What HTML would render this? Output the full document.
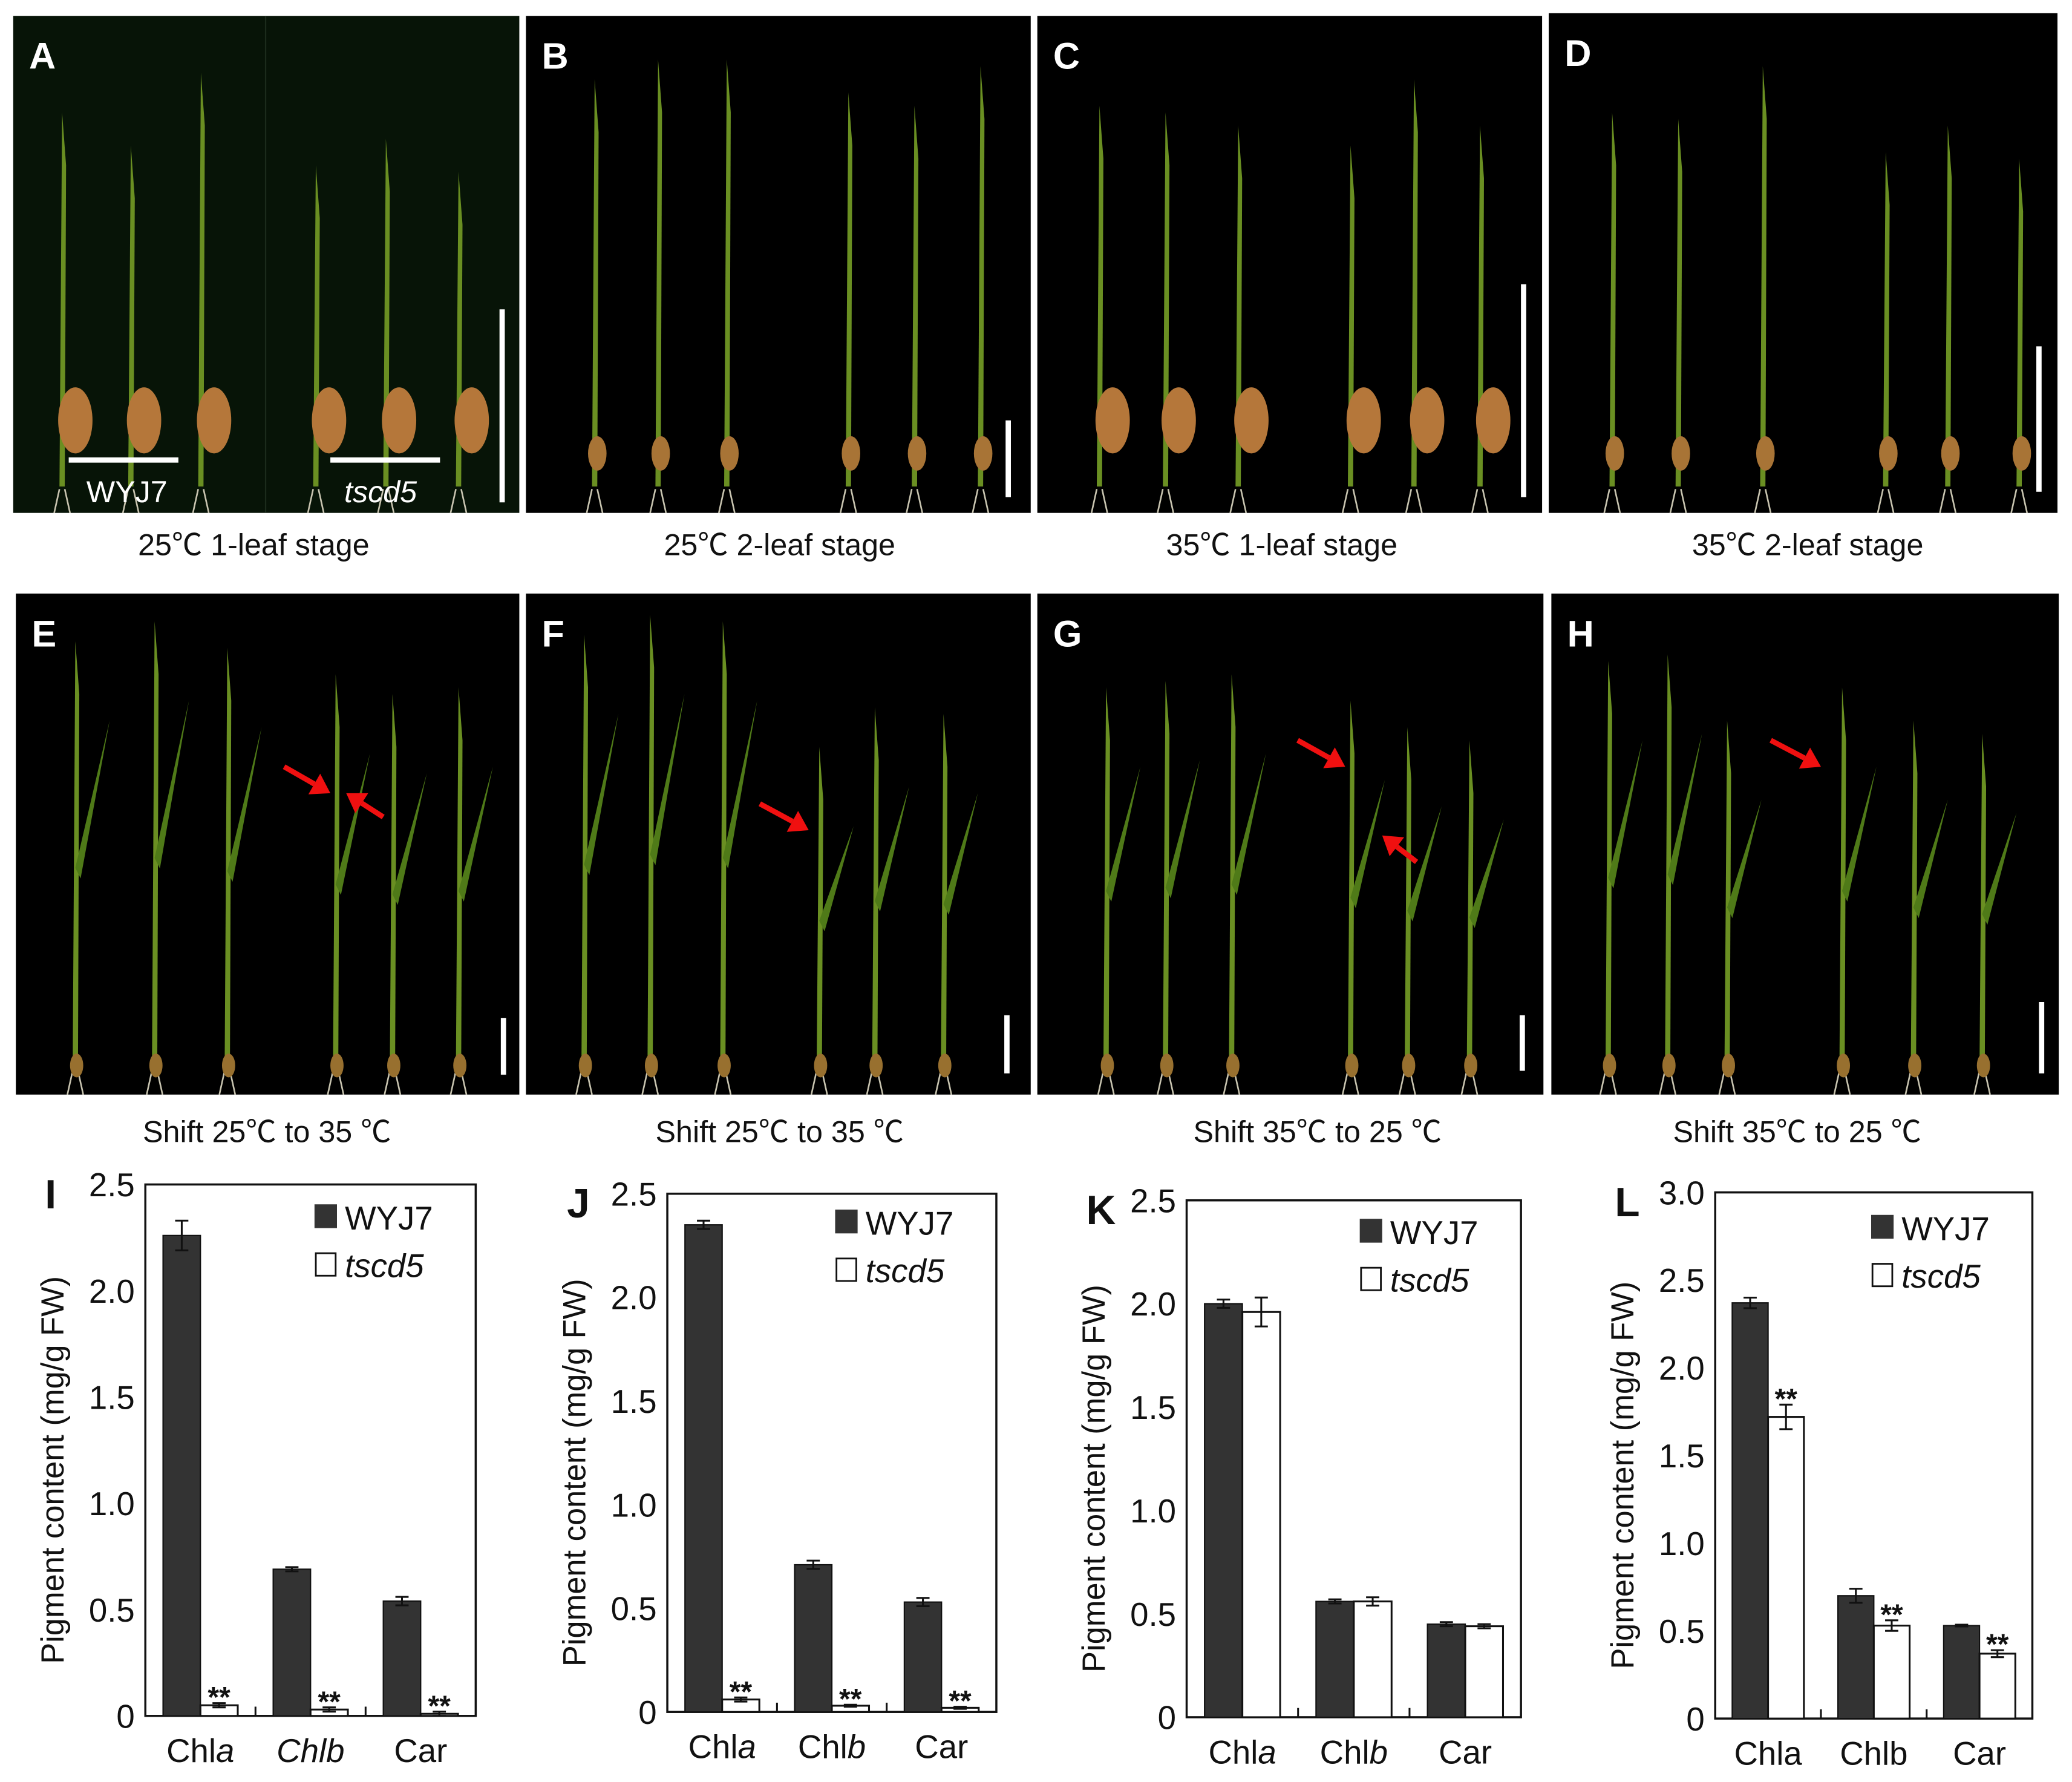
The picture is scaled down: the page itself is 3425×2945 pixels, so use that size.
<!DOCTYPE html>
<html><head><meta charset="utf-8">
<style>
html,body{margin:0;padding:0;background:#fff;}
svg{display:block;}
text{font-family:"Liberation Sans","Noto Sans CJK SC",sans-serif;}
</style></head>
<body>
<svg id="fig" width="3425" height="2945" viewBox="0 0 1568 1348" preserveAspectRatio="none" xmlns="http://www.w3.org/2000/svg">
<rect width="1568" height="1348" fill="#fff"/>
</svg>
<script>
const NS='http://www.w3.org/2000/svg';
const svg=document.getElementById('fig');
function mk(tag,attrs,parent,txt){const e=document.createElementNS(NS,tag);for(const k in attrs)e.setAttribute(k,attrs[k]);if(txt!==undefined)e.textContent=txt;(parent||svg).appendChild(e);return e;}

// ---------- photo panels (decorative) ----------
const photoPanels=[
 {id:'A',x:10,y:12,w:383,h:376,bg:'#071407',stems:[45,97,150,237,290,345],top:[85,110,55,125,105,130],seed:'big',bar:[380,234,380],cap:'25℃ 1-leaf stage',capX:192,capY:412},
 {id:'B',x:398,y:12,w:382,h:376,bg:'#000',stems:[448,496,548,640,690,740],top:[60,45,45,70,80,50],seed:'small',bar:[763,318,376],cap:'25℃ 2-leaf stage',capX:590,capY:412},
 {id:'C',x:785,y:12,w:382,h:376,bg:'#000',stems:[830,880,935,1020,1068,1118],top:[80,85,95,110,60,95],seed:'big',bar:[1153,215,376],cap:'35℃ 1-leaf stage',capX:970,capY:412},
 {id:'D',x:1172,y:10,w:385,h:378,bg:'#000',stems:[1218,1268,1332,1425,1472,1526],top:[85,90,50,115,95,120],seed:'small',bar:[1543,262,372],cap:'35℃ 2-leaf stage',capX:1368,capY:412},
 {id:'E',x:12,y:449,w:381,h:379,bg:'#000',stems:[55,115,170,252,295,345],top:[485,470,490,510,525,520],seed:'tiny',bar:[381,770,813],cap:'Shift 25℃ to 35 ℃',capX:202,capY:856},
 {id:'F',x:398,y:449,w:382,h:379,bg:'#000',stems:[440,490,545,618,660,712],top:[480,465,470,565,535,540],seed:'tiny',bar:[762,768,812],cap:'Shift 25℃ to 35 ℃',capX:590,capY:856},
 {id:'G',x:785,y:449,w:383,h:379,bg:'#000',stems:[835,880,930,1020,1063,1110],top:[520,515,510,530,550,560],seed:'tiny',bar:[1152,768,810],cap:'Shift 35℃ to 25 ℃',capX:997,capY:856},
 {id:'H',x:1174,y:449,w:384,h:379,bg:'#000',stems:[1215,1260,1305,1392,1446,1498],top:[500,495,545,520,545,555],seed:'tiny',bar:[1545,758,812],cap:'Shift 35℃ to 25 ℃',capX:1360,capY:856}
];
photoPanels.forEach(p=>{
 const g=mk('g',{});
 
 
 mk('rect',{x:p.x,y:p.y,width:p.w,height:p.h,fill:p.bg},g);
 const bot=p.y+p.h;
 p.stems.forEach((sx,i)=>{
  const t=p.top[i];
  mk('path',{d:`M${sx},${bot-20} L${sx+2},${t} L${sx+5},${t+40} L${sx+4},${bot-20}Z`,fill:'#6a8f22'},g);
  if(p.id>='E'){mk('path',{d:`M${sx+2},${(t+bot)/2} L${sx+28},${t+60} L${sx+6},${(t+bot)/2+8}Z`,fill:'#4f7a18'},g);}
  mk('line',{x1:sx,y1:bot-18,x2:sx-4,y2:bot,stroke:'#c8c4b0','stroke-width':1.2},g);
  mk('line',{x1:sx+4,y1:bot-18,x2:sx+8,y2:bot,stroke:'#c8c4b0','stroke-width':1.2},g);
  if(p.seed==='big')mk('ellipse',{cx:sx+12,cy:bot-70,rx:13,ry:25,fill:'#b5773a'},g);
  else if(p.seed==='small')mk('ellipse',{cx:sx+4,cy:bot-45,rx:7,ry:13,fill:'#a87436'},g);
  else mk('ellipse',{cx:sx+3,cy:bot-22,rx:5,ry:9,fill:'#98702f'},g);
 });
 const lab=mk('text',{x:p.x+12,y:p.y+40,fill:'#fff','font-size':28,'font-weight':'bold'},g,p.id);
 
 
 const sb=mk('line',{x1:p.bar[0],y1:p.bar[1],x2:p.bar[0],y2:p.bar[2],stroke:'#fff','stroke-width':4},g);
 
 
 const cap=mk('text',{x:p.capX,y:p.capY+8,'text-anchor':'middle','font-size':23,fill:'#111'},svg,p.cap);
 
 
});
// panel A extras
mk('line',{x1:201,y1:12,x2:201,y2:388,stroke:'#1b2b1b','stroke-width':1});
mk('line',{x1:52,y1:348,x2:135,y2:348,stroke:'#fff','stroke-width':4});
mk('line',{x1:250,y1:348,x2:333,y2:348,stroke:'#fff','stroke-width':4});
const tA1=mk('text',{x:96,y:380,'text-anchor':'middle',fill:'#fff','font-size':23},svg,'WYJ7');


const tA2=mk('text',{x:288,y:380,'text-anchor':'middle',fill:'#fff','font-size':23,'font-style':'italic'},svg,'tscd5');


// red arrows
const arrows=[[215,580,250,600],[290,618,262,600],[575,608,612,628],[982,560,1018,580],[1072,652,1046,632],[1340,560,1378,580]];
arrows.forEach(a=>{
 const g=mk('g',{});
 
 
 const dx=a[2]-a[0],dy=a[3]-a[1],L=Math.hypot(dx,dy),ux=dx/L,uy=dy/L;
 const bx=a[2]-ux*14,by=a[3]-uy*14;
 mk('line',{x1:a[0],y1:a[1],x2:bx,y2:by,stroke:'#f01010','stroke-width':4},g);
 mk('polygon',{points:`${a[2]},${a[3]} ${bx-uy*9},${by+ux*9} ${bx+uy*9},${by-ux*9}`,fill:'#f01010'},g);
});

// ---------- charts ----------
const categories=['Chla','Chlb','Car'];
const wyjI=[2.26,0.69,0.54], wyjIerr=[0.07,0.01,0.02], tsI=[0.05,0.03,0.01], tsIerr=[0.01,0.01,0.01];
const wyjJ=[2.35,0.71,0.53], wyjJerr=[0.02,0.02,0.02], tsJ=[0.06,0.03,0.02], tsJerr=[0.01,0.005,0.005];
const wyjK=[2.00,0.56,0.45], wyjKerr=[0.02,0.01,0.01], tsK=[1.96,0.56,0.44], tsKerr=[0.07,0.02,0.01];
const wyjL=[2.37,0.70,0.53], wyjLerr=[0.03,0.04,0.005], tsL=[1.72,0.53,0.37], tsLerr=[0.07,0.03,0.02];
const ticks25=['0','0.5','1.0','1.5','2.0','2.5'];
const ticks30=['0','0.5','1.0','1.5','2.0','2.5','3.0'];
const sigI=[true,true,true], sigJ=[true,true,true], sigK=[false,false,false], sigL=[true,true,true];

const charts=[
 {id:'I',x0:110,x1:360,yTop:896,yBot:1298,max:2.5,ticks:ticks25,w:wyjI,we:wyjIerr,t:tsI,te:tsIerr,sig:sigI,catItal:[false,true,false],legY:928},
 {id:'J',x0:505,x1:754,yTop:903,yBot:1295,max:2.5,ticks:ticks25,w:wyjJ,we:wyjJerr,t:tsJ,te:tsJerr,sig:sigJ,catItal:[false,false,false],legY:932},
 {id:'K',x0:898,x1:1151,yTop:908,yBot:1299,max:2.5,ticks:ticks25,w:wyjK,we:wyjKerr,t:tsK,te:tsKerr,sig:sigK,catItal:[false,false,false],legY:939},
 {id:'L',x0:1298,x1:1538,yTop:902,yBot:1300,max:3.0,ticks:ticks30,w:wyjL,we:wyjLerr,t:tsL,te:tsLerr,sig:sigL,catItal:[false,false,false],legY:936,plain:true}
];
charts.forEach(c=>{
 const g=mk('g',{});
 
 
 const W=c.x1-c.x0;
 const yS=v=>c.yBot-(v/c.max)*(c.yBot-c.yTop);
 const gc=i=>c.x0+W*(i+0.5)/3;
 const bw=W*0.113;
 const fr=mk('rect',{x:c.x0,y:c.yTop,width:W,height:c.yBot-c.yTop,fill:'none',stroke:'#111','stroke-width':1.6},g);
 
 
 c.ticks.forEach(tk=>{
  const yy=yS(parseFloat(tk));
  const tl=mk('text',{x:c.x0-8,y:yy+9,'text-anchor':'end','font-size':25,fill:'#111'},g,tk);
  
  
 });
 for(let i=1;i<3;i++){const xx=c.x0+W*i/3;mk('line',{x1:xx,y1:c.yBot,x2:xx,y2:c.yBot-7,stroke:'#111','stroke-width':1.4},g);}
 categories.forEach((cat,i)=>{
  const cx=gc(i);
  const b1=mk('rect',{x:cx-bw,y:yS(c.w[i]),width:bw,height:c.yBot-yS(c.w[i]),fill:'#333',stroke:'#111','stroke-width':1},g);
  
  
  const b2=mk('rect',{x:cx,y:yS(c.t[i]),width:bw,height:c.yBot-yS(c.t[i]),fill:'#fff',stroke:'#111','stroke-width':1.4},g);
  
  
  [[cx-bw/2,c.w[i],c.we[i]],[cx+bw/2,c.t[i],c.te[i]]].forEach(e=>{
   const eg=mk('g',{stroke:'#111','stroke-width':1.4},g);
   
   
   const ya=yS(e[1]+e[2]),yb=yS(e[1]-e[2]);
   mk('line',{x1:e[0],y1:ya,x2:e[0],y2:yb},eg);
   mk('line',{x1:e[0]-5,y1:ya,x2:e[0]+5,y2:ya},eg);
   mk('line',{x1:e[0]-5,y1:yb,x2:e[0]+5,y2:yb},eg);
  });
  if(c.sig[i]){
   const st=mk('text',{x:cx+bw/2,y:yS(c.t[i]+c.te[i])+3,'text-anchor':'middle','font-size':22,'font-weight':'bold',fill:'#111'},g,'**');
   
   
  }
  const cl=mk('text',{x:cx,y:c.yBot+35,'text-anchor':'middle','font-size':25,fill:'#111'},g);
  
  
  if(cat==='Car'||c.plain){cl.textContent=cat;}
  else if(c.catItal[i]){mk('tspan',{'font-style':'italic'},cl,cat);}
  else{mk('tspan',{},cl,cat.slice(0,3));mk('tspan',{'font-style':'italic'},cl,cat.slice(3));}
 });
 const lg=mk('g',{},g);
 
 
 const lx=c.x1-122;
 const e1=mk('g',{},lg);
 
 
 mk('rect',{x:lx,y:c.legY-17,width:17,height:18,fill:'#333'},e1);
 mk('text',{x:lx+23,y:c.legY+2,'font-size':25,fill:'#111'},e1,'WYJ7');
 const e2=mk('g',{},lg);
 
 
 mk('rect',{x:lx+1,y:c.legY+20,width:15,height:17,fill:'#fff',stroke:'#111','stroke-width':1.3},e2);
 mk('text',{x:lx+23,y:c.legY+38,'font-size':25,'font-style':'italic',fill:'#111'},e2,'tscd5');
 const yc=(c.yTop+c.yBot)/2+15;
 const tx=c.x0-62;
 const yt=mk('text',{x:tx,y:yc,'text-anchor':'middle','font-size':24,fill:'#111',transform:`rotate(-90 ${tx} ${yc})`},g,'Pigment content (mg/g FW)');
 
 
 const pl=mk('text',{x:c.x0-76,y:c.yTop+18,'font-size':31,'font-weight':'bold',fill:'#111'},g,c.id);
 
 
});
</script>
</body></html>
